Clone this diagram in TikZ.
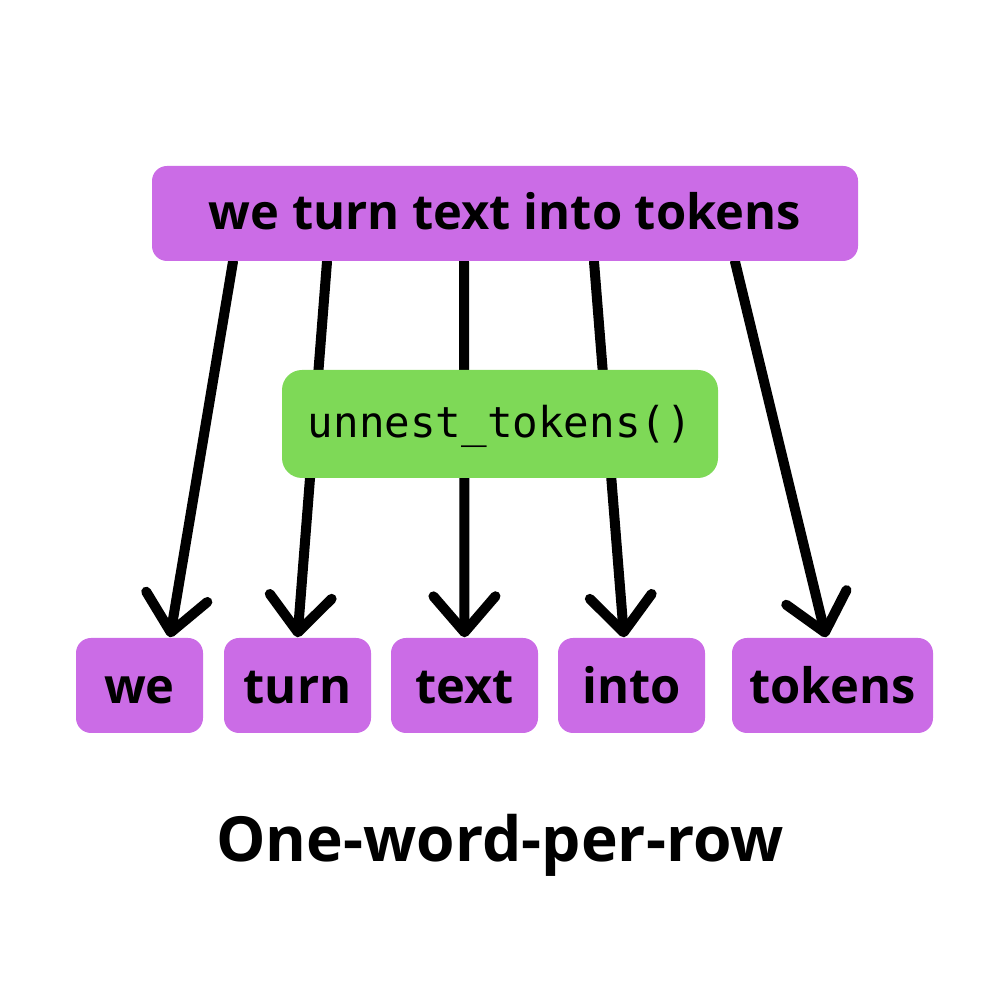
\documentclass[tikz,border=0pt]{standalone}
\usepackage{fontspec}
\setmainfont{Open Sans}
\newfontfamily\codefont{DejaVu Sans Mono}
\usetikzlibrary{arrows.meta,backgrounds}
\definecolor{wordpurple}{HTML}{CB6CE6}
\definecolor{funcgreen}{HTML}{7ED957}

\begin{document}
\begin{tikzpicture}[>={Straight Barb[length=3.6mm,width=6.2mm,round]},
  word/.style={fill=wordpurple,rounded corners=1.5mm,inner sep=0pt,minimum height=9.5mm,
    text height=3.6mm,text depth=0pt,font=\fontsize{13.9}{16}\selectfont\bfseries},
  split/.style={->,line width=2.85pt,line cap=round}]
  \useasboundingbox (0,0) rectangle (10,10);
  \node[word,minimum width=70.6mm,text height=3.3mm] (sentence) at (5.05,7.865) {we turn text into tokens};
  \foreach \name/\x/\w in {we/1.395/1.27,turn/2.975/1.47,text/4.645/1.47,into/6.315/1.47,tokens/8.325/2.01}
    \node[word,minimum width=\w cm] (\name) at (\x,3.145) {\name};
  \begin{scope}[on background layer]
    \foreach \s/\name/\e in {-2.72/we/0.305,-1.78/turn/0,-0.41/text/0,0.89/into/-0.075,2.30/tokens/-0.065}
      \draw[split] ([xshift=\s cm]sentence.south) -- ([xshift=\e cm]\name.north);
  \end{scope}
  \node[fill=funcgreen,rounded corners=2mm,minimum width=43.6mm,minimum height=10.8mm,inner sep=0pt,
    text height=2.8mm,text depth=0pt,font=\codefont\fontsize{12.1}{14}\selectfont] (func) at (5.00,5.76) {unnest\_tokens()};
  \node[anchor=base,font=\fontsize{17.7}{20}\selectfont\bfseries] (title) at (5.00,1.38) {One-word-per-row};
\end{tikzpicture}
\end{document}
